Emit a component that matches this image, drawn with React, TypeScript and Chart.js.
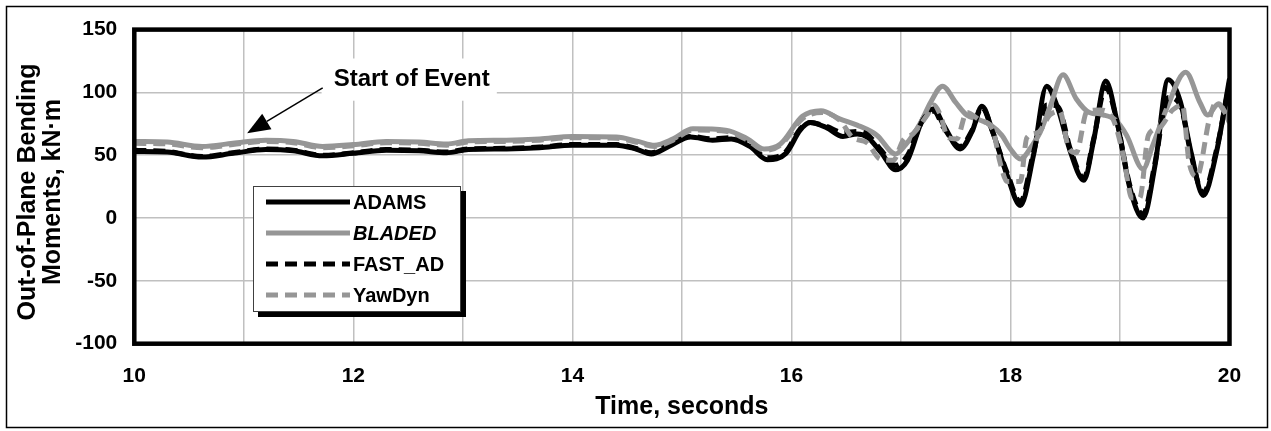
import { useEffect, useRef } from 'react';
import { Chart, registerables } from 'chart.js';

Chart.register(...registerables);

const FONT = "'Liberation Sans', Arial, sans-serif";

const X_MIN = 10;
const X_MAX = 20;
const Y_MIN = -100;
const Y_MAX = 150;
const X_TICK_LABELS: Record<number, string> = { 10: '10', 12: '12', 14: '14', 16: '16', 18: '18', 20: '20' };
const Y_TICK_LABELS: Record<string, string> = { '-100': '-100', '-50': '-50', '0': '0', '50': '50', '100': '100', '150': '150' };

const SERIES_NAMES = ['ADAMS', 'BLADED', 'FAST_AD', 'YawDyn'];

const adamsT = [10.0, 10.3, 10.62, 10.9, 11.2, 11.45, 11.72, 12.0, 12.3, 12.6, 12.85, 13.05, 13.4, 13.7, 14.0, 14.4, 14.58, 14.72, 14.88, 15.08, 15.28, 15.45, 15.62, 15.78, 15.95, 16.08, 16.17, 16.32, 16.47, 16.6, 16.7, 16.82, 16.95, 17.06, 17.2, 17.3, 17.39, 17.54, 17.65, 17.74, 17.84, 17.97, 18.09, 18.21, 18.33, 18.43, 18.55, 18.67, 18.76, 18.87, 18.97, 19.09, 19.21, 19.32, 19.44, 19.55, 19.65, 19.76, 19.88, 20.0];
const adamsV = [53, 52.5, 48.5, 51.5, 54.5, 53.5, 49.5, 51.5, 54, 53.5, 52, 54.5, 55, 56, 58, 58, 55, 51, 57, 64.5, 62, 63, 57, 46.5, 51.5, 70, 76, 72, 65, 67, 64, 52, 38.5, 46, 79, 87, 74, 55, 69, 89, 68, 34, 10, 50, 105, 88, 52, 30, 62, 109, 78, 24, 0, 42, 110, 93, 52, 18, 52, 111];

const bladedT = [10.0, 10.3, 10.62, 10.9, 11.2, 11.45, 11.72, 12.0, 12.3, 12.6, 12.85, 13.05, 13.4, 13.7, 14.0, 14.4, 14.6, 14.75, 14.92, 15.1, 15.4, 15.6, 15.75, 15.9, 16.1, 16.27, 16.44, 16.6, 16.78, 16.95, 17.04, 17.18, 17.27, 17.38, 17.5, 17.6, 17.72, 17.82, 17.92, 18.0, 18.09, 18.2, 18.27, 18.36, 18.48, 18.6, 18.72, 18.85, 18.96, 19.06, 19.21, 19.3, 19.43, 19.6, 19.73, 19.8, 19.9, 20.0];
const bladedV = [61, 60.5, 57, 59.5, 62, 61, 57, 58.5, 61, 60.5, 59, 61.5, 62, 63, 65, 64.5, 61, 58, 63, 71, 70, 63, 55, 59, 81, 85.5, 79, 74, 66, 51, 58, 76, 92, 105, 92, 82, 78, 74, 66, 55, 47, 58, 68, 88, 114, 95, 84, 82, 78, 66, 39, 58, 88, 116, 92, 82, 91, 76];

const fastT = [10.0, 10.3, 10.62, 10.9, 11.2, 11.45, 11.72, 12.0, 12.3, 12.6, 12.85, 13.05, 13.4, 13.7, 14.0, 14.4, 14.58, 14.72, 14.88, 15.08, 15.28, 15.45, 15.62, 15.78, 15.95, 16.08, 16.17, 16.32, 16.47, 16.6, 16.7, 16.82, 16.95, 17.06, 17.2, 17.3, 17.39, 17.54, 17.65, 17.74, 17.84, 17.97, 18.09, 18.21, 18.33, 18.43, 18.55, 18.67, 18.76, 18.87, 18.97, 19.09, 19.21, 19.32, 19.44, 19.55, 19.65, 19.76, 19.88, 20.0];
const fastV = [54, 53, 49, 52, 55, 54, 50, 52, 54.5, 54, 52.5, 55, 55.5, 56.5, 58.5, 58.5, 55.5, 52, 58, 65, 63, 64, 58, 48, 53, 71, 76, 73, 68, 69, 66, 54, 42, 50, 78, 85, 72, 57, 70, 88, 68, 36, 13, 52, 90, 89, 54, 32, 63, 104, 78, 26, 3, 44, 96, 90, 50, 20, 54, 108];

const yawT = [10.0, 10.3, 10.62, 10.9, 11.2, 11.45, 11.72, 12.0, 12.3, 12.6, 12.85, 13.05, 13.4, 13.7, 14.0, 14.4, 14.6, 14.75, 14.92, 15.1, 15.4, 15.6, 15.75, 15.9, 16.1, 16.28, 16.44, 16.56, 16.69, 16.81, 16.93, 17.02, 17.11, 17.24, 17.3, 17.36, 17.43, 17.51, 17.6, 17.72, 17.84, 17.9, 17.97, 18.09, 18.15, 18.25, 18.36, 18.45, 18.53, 18.6, 18.7, 18.82, 18.94, 19.03, 19.11, 19.18, 19.26, 19.36, 19.48, 19.57, 19.63, 19.7, 19.82, 19.88, 20.0];
const yawV = [59.5, 59, 56, 58.5, 61, 60, 56, 57.5, 60, 59.5, 58, 60.5, 61, 62, 64, 63.5, 60, 57, 62, 70, 69, 62, 54, 58, 79, 84, 78, 64, 60, 47, 46, 62, 67, 82, 90, 82, 64, 63, 84, 78, 70, 46, 29, 29, 64, 68, 82, 85, 56, 52, 85, 86, 78, 50, 16, 16, 66, 72, 86, 90, 45, 33, 80, 92, 78];

const toPoints = (ts: number[], vs: number[]) => ts.map((t, i) => ({ x: t, y: vs[i] }));

const BLACK = '#000000';
const GRAY = '#969696';
const DASH = [12, 7];

// annotation in data units
const ANN_TEXT = 'Start of Event';
const annTip = { x: 11.03, y: 67.5 };
const annTail = { x: 11.72, y: 103.6 };
const annText = { x: 11.82, y: 110 };
const annBox = { x0: 11.71, x1: 13.31, y0: 127, y1: 93.4 };

const decorPlugin = {
  id: 'decor',
  beforeDraw(chart: any) {
    const { ctx, width, height } = chart;
    ctx.save();
    ctx.fillStyle = '#ffffff';
    ctx.fillRect(0, 0, width, height);
    ctx.restore();
  },
  beforeDatasetsDraw(chart: any) {
    const { ctx, scales } = chart;
    const xs = scales.x, ys = scales.y;
    ctx.save();
    ctx.fillStyle = '#ffffff';
    const bx0 = xs.getPixelForValue(annBox.x0), bx1 = xs.getPixelForValue(annBox.x1);
    const by0 = ys.getPixelForValue(annBox.y0), by1 = ys.getPixelForValue(annBox.y1);
    ctx.fillRect(bx0, by0, bx1 - bx0, by1 - by0);
    ctx.restore();
  },
  afterDatasetsDraw(chart: any) {
    const { ctx, chartArea } = chart;
    ctx.save();
    ctx.strokeStyle = BLACK;
    ctx.lineWidth = 4.5;
    ctx.strokeRect(chartArea.left, chartArea.top, chartArea.right - chartArea.left, chartArea.bottom - chartArea.top);
    ctx.restore();
  },
  afterDraw(chart: any) {
    const { ctx, scales, chartArea, width, height } = chart;
    const xs = scales.x, ys = scales.y;
    ctx.save();

    // annotation
    const tx = xs.getPixelForValue(annTip.x), ty = ys.getPixelForValue(annTip.y);
    const sx = xs.getPixelForValue(annTail.x), sy = ys.getPixelForValue(annTail.y);
    const dx = tx - sx, dy = ty - sy;
    const len = Math.hypot(dx, dy);
    const ux = dx / len, uy = dy / len;
    const headLen = 23, headHalf = 9;
    const bx = tx - ux * headLen, by = ty - uy * headLen;
    ctx.strokeStyle = BLACK;
    ctx.lineWidth = 1.5;
    ctx.beginPath();
    ctx.moveTo(sx, sy);
    ctx.lineTo(bx, by);
    ctx.stroke();
    ctx.fillStyle = BLACK;
    ctx.beginPath();
    ctx.moveTo(tx, ty);
    ctx.lineTo(bx - uy * headHalf, by + ux * headHalf);
    ctx.lineTo(bx + uy * headHalf, by - ux * headHalf);
    ctx.closePath();
    ctx.fill();
    ctx.font = `bold 24px ${FONT}`;
    ctx.textAlign = 'left';
    ctx.textBaseline = 'middle';
    ctx.fillText(ANN_TEXT, xs.getPixelForValue(annText.x), ys.getPixelForValue(annText.y));

    // legend
    const lx = 253, ly = 186, lw = 208, lh = 126;
    ctx.fillStyle = BLACK;
    ctx.fillRect(lx + 5, ly + 5, lw, lh);
    ctx.fillStyle = '#ffffff';
    ctx.fillRect(lx, ly, lw, lh);
    ctx.strokeStyle = '#404040';
    ctx.lineWidth = 1;
    ctx.strokeRect(lx + 0.5, ly + 0.5, lw - 1, lh - 1);
    const ds = chart.data.datasets;
    ds.forEach((d: any, i: number) => {
      const y = ly + 16 + i * 31;
      ctx.strokeStyle = d.borderColor;
      ctx.lineWidth = 5;
      ctx.setLineDash(d.borderDash || []);
      ctx.beginPath();
      ctx.moveTo(lx + 13, y);
      ctx.lineTo(lx + 97, y);
      ctx.stroke();
      ctx.setLineDash([]);
      ctx.fillStyle = BLACK;
      ctx.font = `${i === 1 ? 'italic ' : ''}bold 20px ${FONT}`;
      ctx.textAlign = 'left';
      ctx.textBaseline = 'middle';
      ctx.fillText(d.label, lx + 100, y + 1);
    });

    // axis titles
    ctx.fillStyle = BLACK;
    ctx.font = `bold 25px ${FONT}`;
    ctx.textAlign = 'center';
    ctx.textBaseline = 'middle';
    ctx.fillText('Time, seconds', (chartArea.left + chartArea.right) / 2, 407);
    ctx.save();
    ctx.translate(28.5, 192);
    ctx.rotate(-Math.PI / 2);
    ctx.fillText('Out-of-Plane Bending', 0, 0);
    ctx.restore();
    ctx.save();
    ctx.translate(53.5, 192);
    ctx.rotate(-Math.PI / 2);
    ctx.fillText('Moments, kN\u00b7m', 0, 0);
    ctx.restore();

    // outer frame
    ctx.strokeStyle = BLACK;
    ctx.lineWidth = 1.5;
    ctx.strokeRect(6.5, 6.5, width - 10, height - 10);
    ctx.restore();
  },
};

export default function App() {
  const ref = useRef<HTMLCanvasElement>(null);
  useEffect(() => {
    const canvas = ref.current;
    if (!canvas) return;
    const mk = (label: string, ts: number[], vs: number[], color: string, dash: number[] | undefined, order: number) => ({
      label,
      data: toPoints(ts, vs),
      borderColor: color,
      backgroundColor: color,
      borderWidth: 5,
      borderDash: dash,
      pointRadius: 0,
      cubicInterpolationMode: 'monotone' as const,
      borderJoinStyle: 'round' as const,
      fill: false,
      order,
    });
    const chart = new Chart(canvas, {
      type: 'line',
      data: {
        datasets: [
          mk(SERIES_NAMES[0], adamsT, adamsV, BLACK, undefined, 4),
          mk(SERIES_NAMES[1], bladedT, bladedV, GRAY, undefined, 3),
          mk(SERIES_NAMES[2], fastT, fastV, BLACK, DASH, 2),
          mk(SERIES_NAMES[3], yawT, yawV, GRAY, DASH, 1),
        ],
      },
      options: {
        animation: false,
        responsive: false,
        devicePixelRatio: 1,
        layout: { padding: { top: 25.3, right: 41.5, left: 0, bottom: 0 } },
        plugins: { legend: { display: false }, tooltip: { enabled: false }, title: { display: false } },
        scales: {
          x: {
            type: 'linear',
            min: X_MIN,
            max: X_MAX,
            border: { display: false },
            grid: { color: '#c0c0c0', lineWidth: 1.5, drawTicks: false },
            ticks: {
              stepSize: 1,
              autoSkip: false,
              maxRotation: 0,
              padding: 20,
              color: BLACK,
              font: { family: FONT, size: 21, weight: 'bold' },
              callback: (v: any) => X_TICK_LABELS[Number(v)] ?? '',
            },
            afterFit: (s: any) => { s.height = 87.3; },
          },
          y: {
            min: Y_MIN,
            max: Y_MAX,
            border: { display: false },
            grid: { color: '#c0c0c0', lineWidth: 1.5, drawTicks: false },
            ticks: {
              stepSize: 50,
              padding: 17,
              color: BLACK,
              font: { family: FONT, size: 21, weight: 'bold' },
              callback: (v: any) => Y_TICK_LABELS[String(Number(v))] ?? '',
            },
            afterFit: (s: any) => { s.width = 134.3; },
          },
        },
      } as any,
      plugins: [decorPlugin],
    });
    return () => chart.destroy();
  }, []);
  return (
    <div style={{ position: 'absolute', left: 0, top: 0, width: 1271, height: 431, background: '#fff' }}>
      <canvas ref={ref} width={1271} height={431} style={{ display: 'block', width: 1271, height: 431 }} />
    </div>
  );
}
